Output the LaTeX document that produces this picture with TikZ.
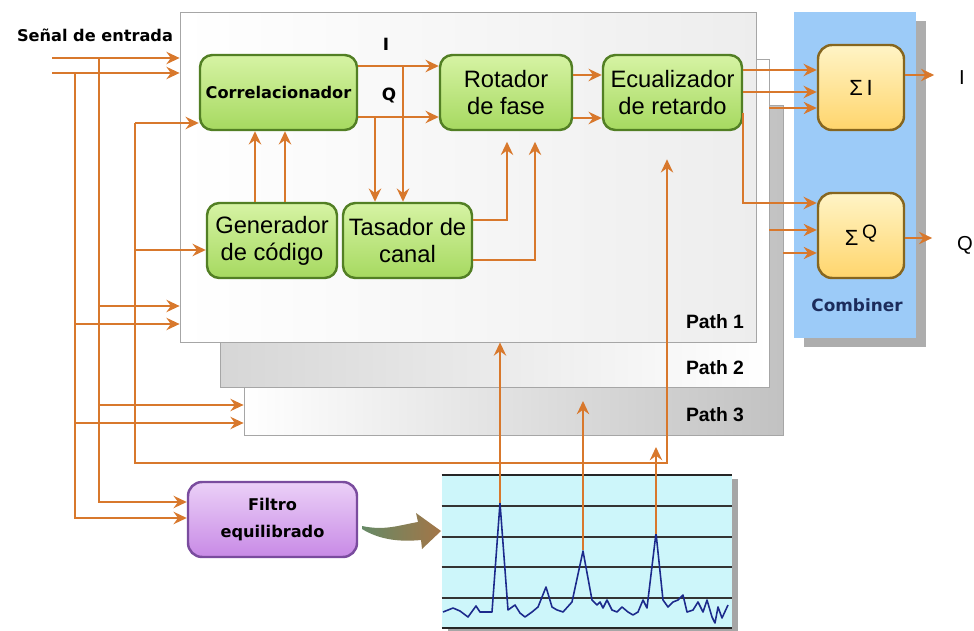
\documentclass[tikz,border=0pt]{standalone}
\usepackage{fontspec}
\setmainfont{DejaVu Sans}
\newfontfamily\pathfont{Liberation Sans}
\usetikzlibrary{arrows.meta,shadows}

\definecolor{wireorange}{HTML}{D8782C}
\definecolor{greenedge}{HTML}{527F24}
\definecolor{greentop}{HTML}{D6F3A4}
\definecolor{greenbot}{HTML}{A6D960}
\definecolor{sumedge}{HTML}{86661F}
\definecolor{sumtop}{HTML}{FFF4C6}
\definecolor{sumbot}{HTML}{FFD56C}
\definecolor{filtedge}{HTML}{7A4C9E}
\definecolor{filttop}{HTML}{EBD0F7}
\definecolor{filtbot}{HTML}{C88AE6}
\definecolor{combblue}{HTML}{9CCBF8}
\definecolor{combtext}{HTML}{1C2C5C}
\definecolor{chartcyan}{HTML}{CDF6FA}
\definecolor{signalblue}{HTML}{1C2A8C}

\tikzset{
  flow/.style={draw=wireorange,line width=1.4pt,-{Stealth[length=7.5pt,width=7pt,inset=2.5pt]}},
  thinflow/.style={flow,line width=0.7pt},
  panel/.style={draw=black!35,line width=0.5pt,inner sep=0pt},
  greenbox/.style={draw=greenedge,line width=1.4pt,rounded corners=7pt,top color=greentop,bottom color=greenbot,
    minimum height=1.5cm,inner sep=1pt,align=center,font=\pathfont\fontsize{13.5}{15.5}\selectfont},
  sumbox/.style={draw=sumedge,line width=1.4pt,rounded corners=8pt,top color=sumtop,bottom color=sumbot,
    minimum width=1.72cm,minimum height=1.7cm,inner sep=1pt,font=\pathfont\fontsize{12.5}{14}\selectfont},
  filtbox/.style={draw=filtedge,line width=1.4pt,rounded corners=8pt,top color=filttop,bottom color=filtbot,
    minimum width=3.38cm,minimum height=1.5cm,inner sep=1pt,align=center,font=\bfseries\fontsize{9.2}{15}\selectfont},
  boldlabel/.style={font=\bfseries\fontsize{9.2}{11}\selectfont,inner sep=0pt},
  pathlabel/.style={font=\pathfont\bfseries\fontsize{11}{13}\selectfont,inner sep=0pt},
  signal/.style={draw=signalblue,line width=0.9pt,line join=round}
}

\begin{document}
\begin{tikzpicture}[x=0.02cm,y=-0.02cm]
\useasboundingbox (0,0) rectangle (974,631);

% paths, back to front
\node[panel,left color=white,right color=black!24,minimum width=10.78cm,minimum height=6.6cm] (p3) at (513.5,270) {};
\node[panel,left color=black!16,right color=white,minimum width=10.98cm,minimum height=6.56cm] (p2) at (494.5,223) {};
\node[panel,left color=white,right color=black!7,minimum width=11.52cm,minimum height=6.6cm] (p1) at (468,177) {};
\node[pathlabel] (l1) at (715,322) {Path 1};
\node[pathlabel] (l2) at (715,368) {Path 2};
\node[pathlabel] (l3) at (715,415) {Path 3};

% combiner
\node[fill=combblue,minimum width=2.44cm,minimum height=6.52cm,inner sep=0pt,
  drop shadow={shadow xshift=0.2cm,shadow yshift=-0.18cm,fill=black!32,opacity=1}] (comb) at (855,175) {};
\node[boldlabel,text=combtext,font=\bfseries\fontsize{9.6}{11}\selectfont] (combl) at (857,305) {Combiner};

% blocks
\node[greenbox,minimum width=3.14cm,font=\bfseries\fontsize{9.2}{11}\selectfont] (corr) at (278.5,92.5) {Correlacionador};
\node[greenbox,minimum width=2.64cm] (rot) at (506,92.5) {Rotador\\de fase};
\node[greenbox,minimum width=2.78cm] (ecu) at (672.5,92.5) {Ecualizador\\de retardo};
\node[greenbox,minimum width=2.6cm] (gen) at (272,240.5) {Generador\\de código};
\node[greenbox,minimum width=2.58cm] (tas) at (407.5,240.5) {Tasador de\\canal};
\node[sumbox] (si) at (861,87.5) {Σ\,I};
\node[sumbox] (sq) at (861,235.5) {Σ\,\raisebox{4pt}{\fontsize{11}{12}\selectfont Q}};
\node[filtbox] (filt) at (272.5,519.5) {Filtro\\equilibrado};

% labels
\node[boldlabel] (sig) at (95,35) {Señal de entrada};
\node[boldlabel,font=\bfseries\fontsize{9.6}{11}\selectfont] (li) at (386,44) {I};
\node[boldlabel,font=\bfseries\fontsize{9.6}{11}\selectfont] (lq) at (389,95) {Q};
\node[font=\pathfont\fontsize{11.5}{12}\selectfont,inner sep=0pt] (outi) at (962,78) {I};
\node[font=\pathfont\fontsize{11.5}{12}\selectfont,inner sep=0pt] (outq) at (965,245) {Q};

% inputs
\coordinate (in1) at (52,58);
\coordinate (in2) at (52,73);
\coordinate (busA) at (99,0);
\coordinate (busB) at (75,0);
\coordinate (busC) at (135,0);
\draw[flow] (in1) -- (p1.west |- in1);
\draw[flow] (in2) -- (p1.west |- in2);
\draw[flow] (busA |- in1) |- (filt.west |- 0,502);
\draw[flow] (busB |- in2) |- (filt.west |- 0,518);
\draw[flow] (busA |- 0,306) -- (p1.west |- 0,306);
\draw[flow] (busB |- 0,324) -- (p1.west |- 0,324);
\draw[flow] (busA |- 0,405) -- (p3.west |- 0,405);
\draw[flow] (busB |- 0,423) -- (p3.west |- 0,423);
\draw[flow] (busC |- 0,123) -- (corr.west |- 0,123);
\draw[flow] (busC |- 0,250) -- (gen.west |- 0,250);
\draw[flow] (busC |- 0,123) |- (667,463) -- (ecu.south -| 667,0) [shorten >=16pt];

% inside path 1
\coordinate (ti) at (403,66);
\coordinate (tq) at (375,117);
\draw[flow] (corr.east |- ti) -- (rot.west |- ti);
\draw[flow] (corr.east |- tq) -- (rot.west |- tq);
\draw[flow] (ti) -- (ti |- tas.north);
\draw[flow] (tq) -- (tq |- tas.north);
\draw[flow] (gen.north -| 255,0) -- (corr.south -| 255,0);
\draw[flow] (gen.north -| 285,0) -- (corr.south -| 285,0);
\draw[flow,shorten >=6pt] (tas.east |- 0,220) -| (rot.south -| 507,0);
\draw[flow,shorten >=6pt] (tas.east |- 0,260) -| (rot.south -| 535,0);
\draw[flow] (rot.east |- 0,75) -- (ecu.west |- 0,75);
\draw[flow] (rot.east |- 0,118) -- (ecu.west |- 0,118);

% to combiner
\draw[flow] (ecu.east |- 0,70) -- (si.west |- 0,70);
\draw[flow] (ecu.east |- 0,92) -- (si.west |- 0,92);
\draw[flow] (ecu.east |- 0,113) |- (sq.west |- 0,203);
\draw[thinflow] (p2.east |- 0,108) -- (si.west |- 0,108);
\draw[thinflow] (p2.east |- 0,230) -- (sq.west |- 0,230);
\draw[thinflow] (p3.east |- 0,253) -- (sq.west |- 0,253);
\draw[flow] (si.east |- 0,75) -- (outi.west |- 0,75) [shorten >=14pt];
\draw[flow] (sq.east |- 0,238) -- (outq.west |- 0,238) [shorten >=14pt];

% correlation plot
\node[fill=chartcyan,minimum width=5.8cm,minimum height=3.06cm,inner sep=0pt,
  drop shadow={shadow xshift=0.12cm,shadow yshift=-0.08cm,fill=black!35,opacity=1}] (chart) at (587,551.5) {};
\foreach \gy in {506,537,567,598}
  \draw[black!80,line width=0.7pt] (chart.west |- 0,\gy) -- (chart.east |- 0,\gy);
\draw[black!85,line width=1.3pt] (chart.north west) -- (chart.north east);
\draw[black!85,line width=1.3pt] (chart.south west) -- (chart.south east);
\draw[signal] plot coordinates {(443,612) (453,608) (460,611) (468,617) (476,606) (480,612) (492,612)
  (500,503) (508,610) (515,605) (520,613) (525,617) (532,612) (538,607) (546,587) (552,607) (557,610)
  (563,612) (572,602) (583,551) (592,600) (597,605) (600,602) (603,608) (607,600) (612,610) (617,612)
  (622,607) (628,612) (633,615) (638,612) (643,600) (647,608) (656,533) (663,600) (668,607) (673,602)
  (678,600) (683,595) (687,612) (693,610) (698,602) (703,612) (707,600) (712,617) (715,623) (718,607)
  (722,618) (728,605)};
\coordinate (pk1) at (500,503);
\coordinate (pk2) at (583,550);
\coordinate (pk3) at (656,534);
\draw[flow] (pk1) -- (pk1 |- p1.south);
\draw[flow] (pk2) -- (pk2 |- 0,401);
\draw[flow] (pk3) -- (pk3 |- 0,447);

% filter to plot
\shade[left color=black!30!green!20!gray,right color=brown!80!black!90,shading angle=90]
  (362,526) .. controls (385,531) and (400,525) .. (418,522) -- (416,513) -- (441,531) -- (422,549)
  -- (421,540) .. controls (400,542) and (380,540) .. (362,529) -- cycle;
\end{tikzpicture}
\end{document}
